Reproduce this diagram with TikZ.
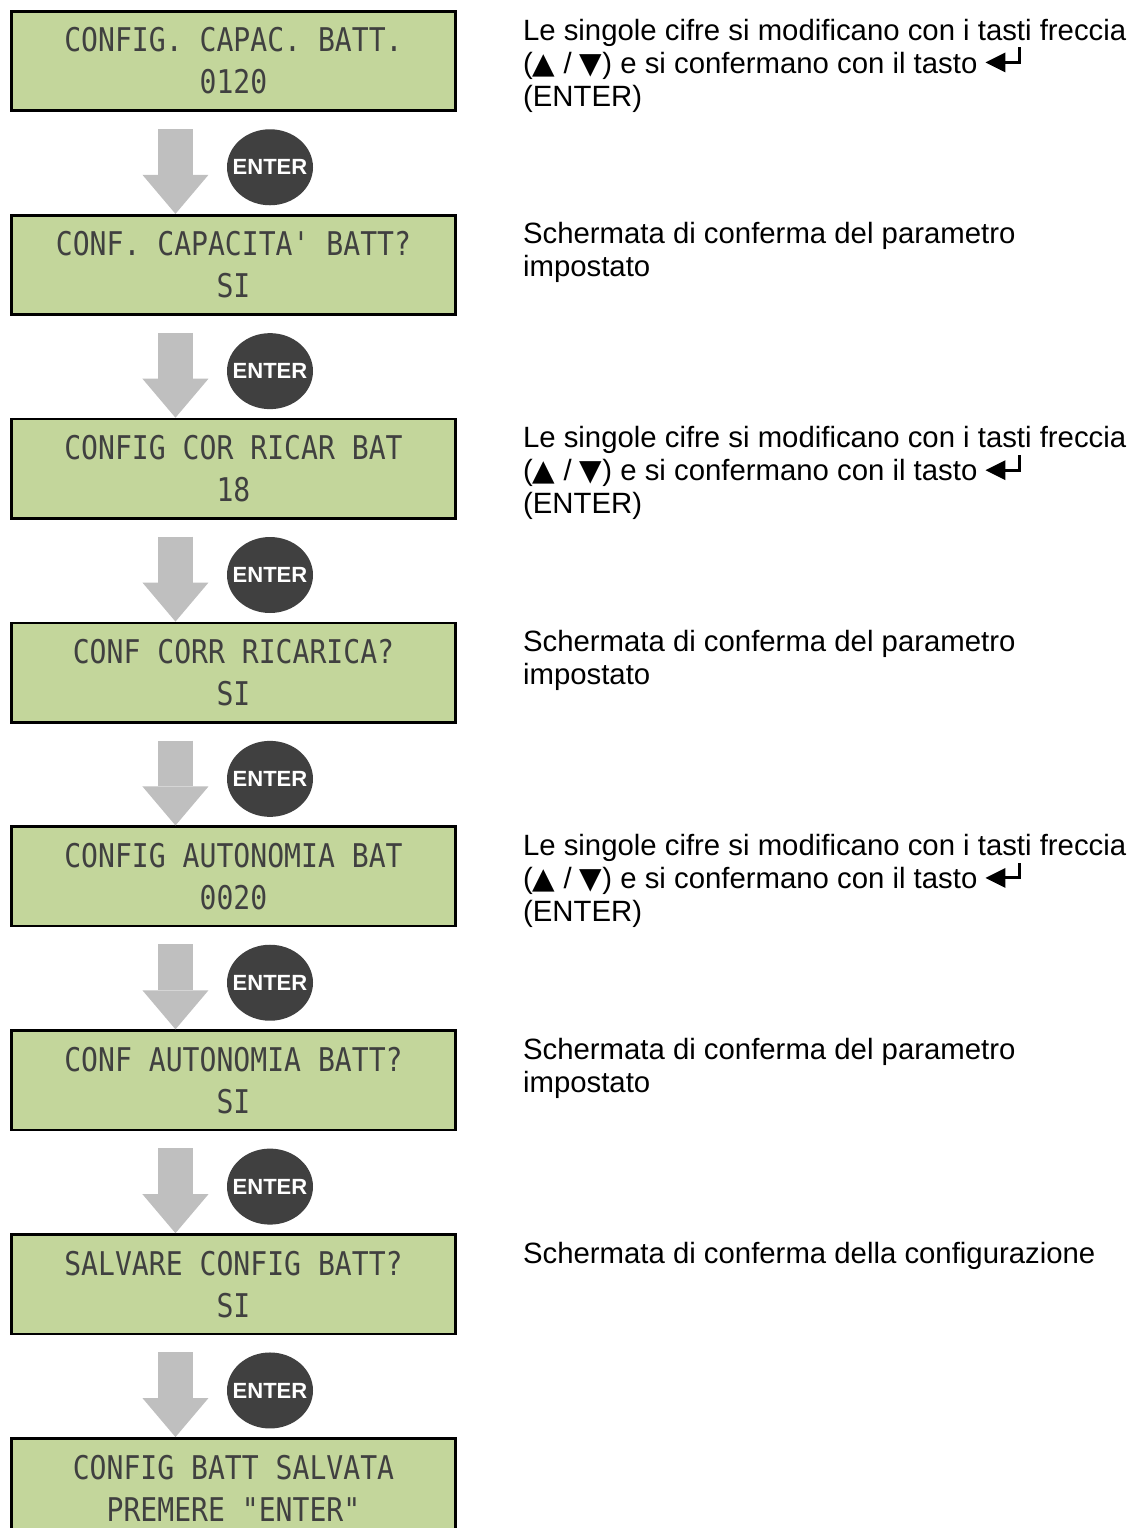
\documentclass[tikz,border=0pt]{standalone}
\usepackage{fontspec}
\setmainfont{Liberation Sans}
\newfontfamily\lcdfont{DejaVu Sans Mono}[FakeStretch=0.86]
\newfontfamily\symfont{DejaVu Sans}
\usetikzlibrary{arrows.meta,positioning,shapes.geometric}
\definecolor{lcdgreen}{HTML}{C3D69B}
\definecolor{keygray}{HTML}{404040}
\definecolor{flowgray}{HTML}{BFBFBF}
\newcommand{\enterkey}{\tikz[baseline=0pt]{%
  \fill (0,0.36em) -- (0.68em,0.7em) -- (0.68em,0.02em) -- cycle;
  \fill (0.6em,0.31em) rectangle (1.2em,0.41em);
  \fill (1.1em,0.31em) rectangle (1.2em,0.88em);}}
\newcommand{\cifrenote}{Le singole cifre si modificano con i tasti freccia\\
  ({\symfont ▲} / {\symfont ▼}) e si confermano con il tasto \enterkey\\(ENTER)}
\newcommand{\confnote}{Schermata di conferma del parametro\\impostato}

\begin{document}
\begin{tikzpicture}[
  every node/.style={font=\fontsize{22}{24.75}\selectfont},
  lcd/.style={draw, line width=2pt, fill=lcdgreen,
              minimum width=333pt, minimum height=74.5pt, align=center,
              font=\lcdfont\fontsize{24.5}{31.5}\selectfont, text=black!75},
  enterbtn/.style={ellipse, fill=keygray, inner sep=0pt,
                   minimum width=64.5pt, minimum height=57pt, text=white,
                   font=\bfseries\fontsize{16.5}{18}\selectfont},
  note/.style={anchor=base west, align=left, inner sep=0pt},
  flow/.style={draw=flowgray, line width=26.25pt,
               -{Triangle[width=49.5pt,length=29.25pt,line width=0pt]}}
]
\useasboundingbox (0,0) rectangle (848.25pt,-1146pt);
%% display screens
\node[lcd] (s1) at (175.1pt,-45.75pt) {CONFIG. CAPAC. BATT.\\0120};
\node[lcd, below=76.4pt of s1] (s2) {CONF. CAPACITA' BATT?\\SI};
\node[lcd, below=76.4pt of s2] (s3) {CONFIG COR RICAR BAT\\18};
\node[lcd, below=76.4pt of s3] (s4) {CONF CORR RICARICA?\\SI};
\node[lcd, below=76.4pt of s4] (s5) {CONFIG AUTONOMIA BAT\\0020};
\node[lcd, below=76.4pt of s5] (s6) {CONF AUTONOMIA BATT?\\SI};
\node[lcd, below=76.4pt of s6] (s7) {SALVARE CONFIG BATT?\\SI};
\node[lcd, below=76.4pt of s7] (s8) {CONFIG BATT SALVATA\\PREMERE "ENTER"};
%% ENTER keys
\node[enterbtn, below=12.75pt of s1.south, xshift=27.4pt] (k1) {\makebox[0pt]{ENTER}};
\node[enterbtn, below=12.75pt of s2.south, xshift=27.4pt] (k2) {\makebox[0pt]{ENTER}};
\node[enterbtn, below=12.75pt of s3.south, xshift=27.4pt] (k3) {\makebox[0pt]{ENTER}};
\node[enterbtn, below=12.75pt of s4.south, xshift=27.4pt] (k4) {\makebox[0pt]{ENTER}};
\node[enterbtn, below=12.75pt of s5.south, xshift=27.4pt] (k5) {\makebox[0pt]{ENTER}};
\node[enterbtn, below=12.75pt of s6.south, xshift=27.4pt] (k6) {\makebox[0pt]{ENTER}};
\node[enterbtn, below=12.75pt of s7.south, xshift=27.4pt] (k7) {\makebox[0pt]{ENTER}};
%% flow arrows
\draw[flow] ([xshift=-43.5pt, yshift=-12.75pt]s1.south) -- ([xshift=-43.5pt]s2.north);
\draw[flow] ([xshift=-43.5pt, yshift=-12.75pt]s2.south) -- ([xshift=-43.5pt]s3.north);
\draw[flow] ([xshift=-43.5pt, yshift=-12.75pt]s3.south) -- ([xshift=-43.5pt]s4.north);
\draw[flow] ([xshift=-43.5pt, yshift=-12.75pt]s4.south) -- ([xshift=-43.5pt]s5.north);
\draw[flow] ([xshift=-43.5pt, yshift=-12.75pt]s5.south) -- ([xshift=-43.5pt]s6.north);
\draw[flow] ([xshift=-43.5pt, yshift=-12.75pt]s6.south) -- ([xshift=-43.5pt]s7.north);
\draw[flow] ([xshift=-43.5pt, yshift=-12.75pt]s7.south) -- ([xshift=-43.5pt]s8.north);
%% descriptions (base anchor sits on the last line)
\node[note] (n1) at ([xshift=49.5pt, yshift=-72pt]s1.north east) {\cifrenote};
\node[note] (n2) at ([xshift=49.5pt, yshift=-47.25pt]s2.north east) {\confnote};
\node[note] (n3) at ([xshift=49.5pt, yshift=-72pt]s3.north east) {\cifrenote};
\node[note] (n4) at ([xshift=49.5pt, yshift=-47.25pt]s4.north east) {\confnote};
\node[note] (n5) at ([xshift=49.5pt, yshift=-72pt]s5.north east) {\cifrenote};
\node[note] (n6) at ([xshift=49.5pt, yshift=-47.25pt]s6.north east) {\confnote};
\node[note] (n7) at ([xshift=49.5pt, yshift=-22.5pt]s7.north east)
  {Schermata di conferma della configurazione};
\end{tikzpicture}
\end{document}
